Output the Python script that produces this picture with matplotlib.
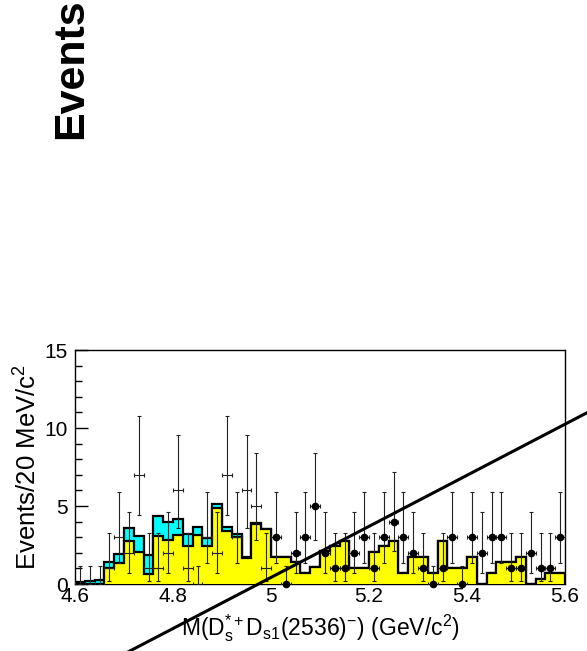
import matplotlib
matplotlib.use('Agg')
from matplotlib import pyplot as plt
from matplotlib.ticker import MultipleLocator, FuncFormatter
import numpy as np

plt.rcParams['font.family'] = ['Liberation Sans', 'DejaVu Sans']
plt.rcParams['mathtext.fontset'] = 'custom'
plt.rcParams['mathtext.rm'] = 'Liberation Sans'
plt.rcParams['mathtext.it'] = 'Liberation Sans:italic'
plt.rcParams['mathtext.bf'] = 'Liberation Sans:bold'

# 20 MeV bins from 4.6 to 5.6 GeV
bin_lo = 4.6
bin_width = 0.02
n_bins = 50

# cyan = total (stacked), yellow = main component
total = [0.10, 0.17, 0.23, 1.43, 1.94, 3.59, 3.10, 1.88, 4.38, 3.95,
         4.15, 3.20, 3.67, 2.95, 5.13, 3.65, 3.23, 1.74, 3.89, 3.55,
         1.75, 1.75, 1.43, 0.68, 1.07, 2.10, 2.45, 2.78, 1.05, 1.05,
         2.07, 2.46, 2.78, 0.68, 1.72, 1.72, 0.68, 2.78, 1.05, 1.05,
         1.73, 0.00, 0.68, 1.39, 1.39, 1.73, 0.00, 0.34, 0.68, 0.68]
yellow = [0.00, 0.00, 0.00, 1.00, 1.32, 2.76, 2.05, 0.66, 3.08, 2.80,
          3.14, 2.46, 3.14, 2.44, 4.87, 3.42, 3.03, 1.68, 3.82, 3.50,
          1.75, 1.75, 1.43, 0.68, 1.07, 2.10, 2.45, 2.78, 1.05, 1.05,
          2.07, 2.46, 2.78, 0.68, 1.72, 1.72, 0.68, 2.78, 1.05, 1.05,
          1.73, 0.00, 0.68, 1.39, 1.39, 1.73, 0.00, 0.34, 0.68, 0.68]

# data counts per bin
counts = [0, 0, 0, 1, 3, 2, 7, 1, 1, 2,
          6, 1, 0, 3, 2, 7, 3, 6, 5, 1,
          3, 0, 2, 3, 5, 2, 1, 1, 2, 3,
          1, 3, 4, 3, 2, 1, 0, 1, 3, 0,
          3, 2, 3, 3, 1, 1, 2, 1, 1, 3]

# poisson error bar sizes, by count
err_lo = [0.0, 0.83, 1.29, 1.63, 1.91, 2.16, 2.38, 2.58]
err_hi = [1.15, 2.30, 2.64, 2.92, 3.16, 3.38, 3.58, 3.77]

marker_from = 5.0  # dots only drawn from here on

# stray straight line across the pad
line_x = [4.70, 5.66]
line_y = [-4.49, 11.23]

edges = bin_lo + bin_width * np.arange(n_bins + 1)
centers = edges[:-1] + bin_width / 2
counts = np.array(counts)

fig = plt.figure(figsize=(5.87, 6.51), dpi=100)
ax = fig.add_axes([0.1278, 0.1029, 0.8348, 0.3594])

ax.stairs(total, edges, fill=True, facecolor='#00ffff', edgecolor='black', linewidth=1.6, zorder=2)
ax.stairs(yellow, edges, fill=True, facecolor='#ffff00', edgecolor='black', linewidth=1.6, zorder=3)

lo = [err_lo[n] for n in counts]
hi = [err_hi[n] for n in counts]
ax.errorbar(centers, counts, xerr=bin_width / 2, yerr=[lo, hi], fmt='none',
            ecolor='#222222', elinewidth=0.8, capsize=1.6, capthick=0.8, zorder=4)
m = centers > marker_from
ax.plot(centers[m], counts[m], 'o', color='black', ms=4.5, zorder=5, clip_on=False)

ax.plot(line_x, line_y, color='black', lw=2.2, clip_on=False, zorder=6)

ax.set_xlim(4.6, 5.6)
ax.set_ylim(0, 15)
ax.xaxis.set_major_locator(MultipleLocator(0.2))
ax.xaxis.set_major_formatter(FuncFormatter(lambda v, p: f'{v:g}'))
ax.yaxis.set_major_locator(MultipleLocator(5))
ax.yaxis.set_minor_locator(MultipleLocator(1))
ax.tick_params(axis='x', length=0, pad=2, labelsize=15)
ax.tick_params(axis='y', which='major', direction='in', length=9.5, width=1, pad=5, labelsize=15)
ax.tick_params(axis='y', which='minor', direction='in', length=4.7, width=1)
for s in ax.spines.values():
    s.set_linewidth(1)

ax.set_ylabel('Events/20 MeV/c$^2$', fontsize=18.5)
ax.yaxis.set_label_coords(-0.069, 0.5)
ax.set_xlabel(r'M(D$_\mathrm{s}^{*+}$D$_\mathrm{s1}$(2536)$^{-}$) (GeV/c$^2$)', fontsize=16.5, labelpad=5)

fig.text(82 / 587, 1 - 139 / 651, 'Events', rotation=90, rotation_mode='anchor',
         ha='left', va='baseline', fontsize=31, fontweight='bold')

fig.savefig('out.png', dpi=100)
